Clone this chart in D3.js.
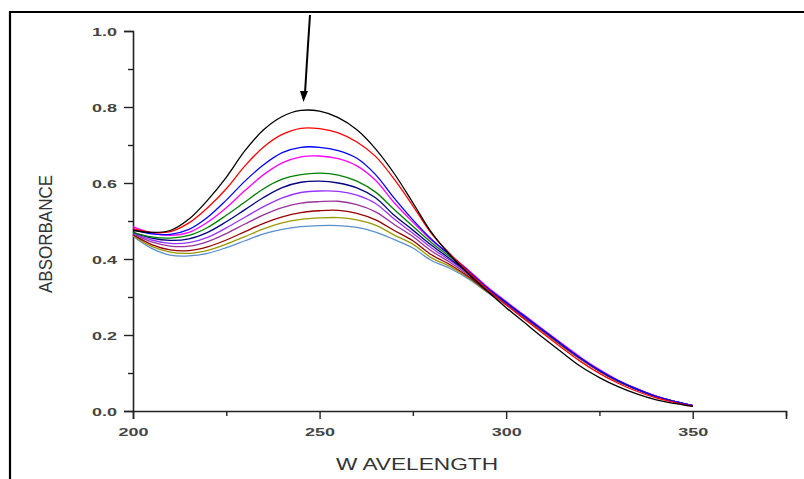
<!DOCTYPE html>
<html>
<head>
<meta charset="utf-8">
<script src="https://cdn.jsdelivr.net/npm/d3@7"></script>
<style>
  body { margin: 0; background: #fff; }
  .chart text { font-family: Arial, "Liberation Sans", sans-serif; }
</style>
</head>
<body>
<div class="chart"></div>
<script>
// DATA ---------------------------------------------------------------

const wavelength = [200, 205, 210, 215, 220, 225, 230, 235, 240, 245, 250, 255, 260, 265, 270,
                    275, 280, 285, 290, 295, 300, 305, 310, 315, 320, 325, 330, 335, 340, 345, 350];

const black   = [0.475, 0.470, 0.475, 0.505, 0.555, 0.615, 0.685, 0.740, 0.775, 0.791, 0.789, 0.772, 0.740, 0.690, 0.625,
                 0.548, 0.470, 0.410, 0.360, 0.315, 0.272, 0.232, 0.192, 0.154, 0.117, 0.088, 0.064, 0.045, 0.030, 0.020, 0.012];
const red     = [0.480, 0.470, 0.472, 0.495, 0.535, 0.585, 0.645, 0.695, 0.728, 0.744, 0.743, 0.732, 0.708, 0.670, 0.610,
                 0.540, 0.467, 0.413, 0.365, 0.320, 0.279, 0.241, 0.203, 0.166, 0.130, 0.099, 0.073, 0.052, 0.035, 0.023, 0.013];
const blue    = [0.478, 0.466, 0.465, 0.478, 0.510, 0.555, 0.605, 0.648, 0.680, 0.694, 0.694, 0.685, 0.665, 0.622, 0.560,
                 0.503, 0.452, 0.410, 0.368, 0.324, 0.286, 0.249, 0.212, 0.175, 0.139, 0.107, 0.080, 0.058, 0.039, 0.025, 0.014];
const magenta = [0.485, 0.468, 0.462, 0.470, 0.497, 0.535, 0.580, 0.622, 0.653, 0.669, 0.671, 0.664, 0.645, 0.607, 0.548,
                 0.497, 0.449, 0.410, 0.370, 0.326, 0.288, 0.251, 0.214, 0.177, 0.141, 0.109, 0.081, 0.059, 0.040, 0.025, 0.014];
const green   = [0.470, 0.458, 0.455, 0.462, 0.483, 0.515, 0.550, 0.585, 0.610, 0.622, 0.626, 0.621, 0.605, 0.576, 0.530,
                 0.486, 0.443, 0.405, 0.366, 0.323, 0.286, 0.249, 0.212, 0.175, 0.139, 0.107, 0.080, 0.058, 0.039, 0.025, 0.014];
const navy    = [0.470, 0.455, 0.449, 0.453, 0.470, 0.498, 0.530, 0.562, 0.588, 0.602, 0.605, 0.600, 0.587, 0.561, 0.515,
                 0.476, 0.436, 0.400, 0.363, 0.321, 0.285, 0.248, 0.211, 0.174, 0.138, 0.106, 0.079, 0.057, 0.039, 0.025, 0.014];
const violet  = [0.468, 0.450, 0.441, 0.443, 0.457, 0.482, 0.510, 0.538, 0.561, 0.575, 0.579, 0.578, 0.568, 0.546, 0.505,
                 0.468, 0.429, 0.396, 0.360, 0.319, 0.284, 0.247, 0.211, 0.174, 0.138, 0.106, 0.079, 0.057, 0.039, 0.025, 0.014];
const purple  = [0.466, 0.445, 0.434, 0.434, 0.446, 0.467, 0.492, 0.516, 0.535, 0.547, 0.551, 0.552, 0.543, 0.524, 0.491,
                 0.459, 0.421, 0.391, 0.357, 0.317, 0.283, 0.246, 0.210, 0.173, 0.137, 0.106, 0.079, 0.057, 0.039, 0.025, 0.014];
const wine    = [0.464, 0.438, 0.424, 0.422, 0.432, 0.450, 0.472, 0.494, 0.511, 0.522, 0.527, 0.528, 0.520, 0.503, 0.475,
                 0.448, 0.411, 0.385, 0.353, 0.315, 0.282, 0.245, 0.209, 0.172, 0.137, 0.105, 0.078, 0.057, 0.039, 0.025, 0.014];
const olive   = [0.462, 0.433, 0.418, 0.415, 0.423, 0.439, 0.459, 0.479, 0.495, 0.504, 0.508, 0.509, 0.503, 0.489, 0.463,
                 0.439, 0.403, 0.380, 0.350, 0.313, 0.281, 0.244, 0.208, 0.171, 0.136, 0.105, 0.078, 0.057, 0.039, 0.025, 0.014];
const steel   = [0.460, 0.428, 0.410, 0.408, 0.415, 0.430, 0.448, 0.466, 0.478, 0.485, 0.488, 0.488, 0.483, 0.471, 0.451,
                 0.429, 0.396, 0.375, 0.347, 0.312, 0.280, 0.244, 0.208, 0.171, 0.136, 0.105, 0.078, 0.057, 0.039, 0.025, 0.014];

const seriesList = [black, red, blue, magenta, green, navy, violet, purple, wine, olive, steel];
const colors = ['#000000', '#ff0000', '#0000ff', '#ff00ff', '#008000', '#000080',
                '#9933ff', '#993399', '#990000', '#999900', '#5b8fcc'];

const xTicks = [200, 250, 300, 350];
const xMinor = [225, 275, 325, 375];
const yTicks = [0.0, 0.2, 0.4, 0.6, 0.8, 1.0];
const yMinor = [0.1, 0.3, 0.5, 0.7, 0.9];

// CHART INIT ---------------------------------------------------------

const W = 804, H = 479;
const plot = {left: 133, right: 786, top: 31, bottom: 411};

const svg = d3.select('.chart')
    .append('svg')
    .attr('width', W)
    .attr('height', H);

const xScale = d3.scaleLinear().domain([200, 375]).range([plot.left, plot.right]);
const yScale = d3.scaleLinear().domain([0, 1]).range([plot.bottom, plot.top]);

// outer frame (top and left edges only)
svg.append('path')
    .attr('d', `M10,${H} L10,12 L${W},12`)
    .attr('fill', 'none')
    .attr('stroke', '#000')
    .attr('stroke-width', 2.2);

// axes
const axisColor = '#222';
const xAxis = d3.axisBottom(xScale).tickValues(xTicks).tickSize(8).tickFormat(d3.format('d'));
const xAxisMinor = d3.axisBottom(xScale).tickValues(xMinor).tickSize(5).tickFormat('');
const yAxis = d3.axisLeft(yScale).tickValues(yTicks).tickSize(9).tickFormat(d3.format('.1f'));
const yAxisMinor = d3.axisLeft(yScale).tickValues(yMinor).tickSize(5).tickFormat('');

svg.append('g').attr('class', 'x-minor').attr('transform', `translate(0,${plot.bottom})`).call(xAxisMinor);
svg.append('g').attr('class', 'y-minor').attr('transform', `translate(${plot.left},0)`).call(yAxisMinor);
const gx = svg.append('g').attr('class', 'x-axis').attr('transform', `translate(0,${plot.bottom})`).call(xAxis);
const gy = svg.append('g').attr('class', 'y-axis').attr('transform', `translate(${plot.left},0)`).call(yAxis);

svg.selectAll('.domain').attr('stroke', axisColor).attr('stroke-width', 1.6);
svg.selectAll('.tick line').attr('stroke', axisColor).attr('stroke-width', 1.4);
svg.selectAll('.x-minor .domain, .y-minor .domain').remove();

gx.selectAll('.tick text')
    .attr('y', 24.5)
    .attr('dy', 0)
    .attr('font-size', 11.5)
    .attr('font-weight', 'bold')
    .attr('fill', '#444')
    .attr('textLength', 30)
    .attr('lengthAdjust', 'spacingAndGlyphs');

gy.selectAll('.tick text')
    .attr('x', -16)
    .attr('dy', '0.36em')
    .attr('font-size', 11.5)
    .attr('font-weight', 'bold')
    .attr('fill', '#444')
    .attr('textLength', 25)
    .attr('lengthAdjust', 'spacingAndGlyphs');

// axis titles
svg.append('text')
    .attr('class', 'y-axis-title')
    .attr('transform', 'translate(52,234) rotate(-90)')
    .attr('text-anchor', 'middle')
    .attr('font-size', 17.5)
    .attr('fill', '#333')
    .attr('textLength', 118)
    .attr('lengthAdjust', 'spacingAndGlyphs')
    .text('ABSORBANCE');

svg.append('text')
    .attr('class', 'x-axis-title')
    .attr('x', 417)
    .attr('y', 470)
    .attr('text-anchor', 'middle')
    .attr('font-size', 16.5)
    .attr('fill', '#333')
    .attr('textLength', 162)
    .attr('lengthAdjust', 'spacingAndGlyphs')
    .text('W AVELENGTH');

// CURVES -------------------------------------------------------------

const line = d3.line()
    .x((d, i) => xScale(wavelength[i]))
    .y(d => yScale(d))
    .curve(d3.curveCatmullRom.alpha(0.5));

// draw lightest first so black ends on top
const order = d3.range(seriesList.length).reverse();
svg.append('g')
    .selectAll('path')
    .data(order)
    .join('path')
    .attr('d', i => line(seriesList[i]))
    .attr('fill', 'none')
    .attr('stroke', i => colors[i])
    .attr('stroke-width', 1.3);

// arrow pointing to the peak
svg.append('path')
    .attr('d', 'M310,15 L308,45 L305,93')
    .attr('fill', 'none')
    .attr('stroke', '#000')
    .attr('stroke-width', 2);

svg.append('path')
    .attr('d', 'M300,91 L308,91 L303.5,102 Z')
    .attr('fill', '#000');
</script>
</body>
</html>
